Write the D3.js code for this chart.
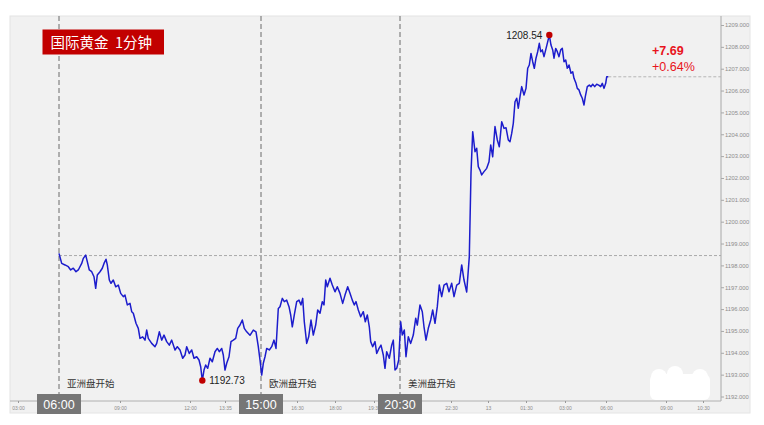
<!DOCTYPE html>
<html><head><meta charset="utf-8">
<script src="https://cdn.jsdelivr.net/npm/d3@7"></script>
<style>
html,body{margin:0;padding:0;background:#fff;}
svg{display:block;font-family:"Noto Sans CJK SC","Noto Sans",Arial,sans-serif;}
</style></head>
<body><svg id="c" width="764" height="425"></svg>
<script>
// ---- data ----
const title = "国际黄金  1分钟";
// session bar index (06:00 Asia open = 0)
const tIdx = [0,2.7,6,9.3,11.7,14.3,17,19.3,22.7,24.3,26.7,28.3,30.3,32.7,35,36.7,38.3,41,43.3,45,47,48.3,50.3,52,54.3,56.7,59.3,61.7,64.3,66,68.3,71,72.7,74.3,77,79.3,81,83.7,86,87.7,89.3,92.7,96,97.7,100.3,102.7,105,107.7,110.3,112.7,116,118.3,121,123.7,126,127.7,130.3,132.7,135,137.7,140,141.7,143.3,145,146.7,148.7,151,153.3,156,158.3,160.3,162.7,164.3,166,167.7,170,172,174.3,176.7,178.7,181,183.3,185.3,187.7,191,194.3,197,199.3,201,202.7,204.3,206,207.7,210.3,212.7,215,217,219.3,221,223.3,225.3,227.7,230,231.7,233.3,235.3,237.7,240,242,243.7,245.3,247.7,249.7,252,254.3,256.7,258.7,261,263.3,265,266.7,268.3,271,273.3,276,278.3,281,283.7,286,288.7,291,293.3,295.3,297,299.3,301.7,304.3,306.3,308.3,310.3,311.7,313.7,316,317.7,320,322,324.3,326,327.7,330.3,332.7,334.3,336,337.7,339.7,341.7,343.3,345.3,347,349.3,351.7,354.3,356.7,358.3,361,363.3,365,367,369.3,371.7,373.7,376,378.3,380.3,382.7,385,387.7,390,392.7,395,397.7,400.3,402.7,405,407.7,410.3,412,413.7,416,417.7,419.3,421,422.7,425,427.7,430,431.7,433.7,436,438.3,440.3,442.7,445,447,449.3,451,452.7,454.3,456,457.7,459.3,461,462.7,465,467,468.7,470.3,472,473.7,475.3,477,478.7,480.3,481.7,483.3,485,486.7,488.3,490.3,492,493.7,495,496.7,498.3,500,501.7,503.3,505,506.7,508.3,510,512,513.7,515,517,518.3,520,521.7,523.3,525,526.3,528.3,530.3,532,533.7,535.7,537.7,539.7,541.7,543.3,545,546.7,547.7,549.3];
const price = [1198.55,1198.09,1198.02,1197.94,1197.79,1197.87,1197.71,1197.79,1198.09,1198.32,1198.47,1198.17,1197.79,1197.71,1197.48,1196.95,1197.56,1197.71,1197.87,1198.09,1198.28,1198.02,1197.33,1197.18,1197.33,1197.02,1197.10,1196.72,1196.57,1196.64,1196.19,1196.26,1195.88,1195.81,1195.35,1195.12,1194.66,1194.73,1194.58,1195.04,1194.66,1194.43,1194.28,1194.43,1194.96,1194.58,1194.81,1194.51,1194.35,1194.58,1194.13,1194.28,1194.13,1193.75,1193.90,1194.28,1193.97,1194.13,1193.75,1193.82,1193.67,1193.36,1192.73,1193.21,1193.44,1193.29,1193.75,1193.59,1194.05,1194.20,1194.05,1194.20,1193.90,1193.21,1193.52,1193.82,1194.51,1194.58,1194.66,1195.12,1195.27,1195.50,1195.12,1194.96,1194.80,1195.04,1194.96,1194.28,1193.67,1192.98,1193.52,1193.82,1194.20,1194.13,1194.28,1194.58,1194.20,1196.03,1196.11,1196.49,1196.34,1196.41,1196.11,1195.73,1195.19,1195.73,1196.34,1196.41,1196.19,1196.49,1195.42,1194.43,1194.73,1195.50,1194.81,1195.27,1195.96,1195.81,1196.34,1196.19,1197.33,1197.02,1197.41,1197.10,1196.79,1197.02,1196.72,1196.26,1196.64,1197.02,1196.72,1196.41,1196.19,1196.34,1195.96,1195.65,1195.88,1195.42,1195.73,1195.19,1194.51,1194.28,1194.51,1193.97,1194.20,1194.35,1193.90,1193.29,1194.05,1193.75,1194.35,1194.58,1193.21,1193.29,1193.67,1195.42,1194.81,1195.04,1193.82,1194.73,1194.43,1194.81,1195.58,1195.27,1196.19,1195.88,1195.19,1194.58,1195.12,1195.50,1195.96,1195.35,1196.11,1197.10,1196.57,1197.10,1197.18,1196.79,1197.18,1196.57,1197.10,1197.18,1198.02,1197.33,1196.78,1198.40,1202.23,1204.12,1203.20,1203.36,1202.52,1202.36,1202.14,1202.29,1202.44,1202.74,1203.51,1202.97,1204.35,1203.74,1203.43,1204.57,1204.27,1204.30,1203.74,1203.66,1204.04,1204.50,1205.49,1205.65,1205.19,1205.72,1206.18,1205.80,1206.10,1207.02,1207.17,1207.70,1207.32,1207.02,1207.48,1207.78,1208.16,1207.78,1207.86,1207.55,1207.86,1208.16,1208.54,1208.08,1207.86,1207.48,1207.93,1207.78,1207.55,1207.86,1207.93,1207.32,1207.40,1207.02,1207.17,1206.79,1206.86,1206.56,1206.33,1206.10,1206.03,1205.80,1205.65,1205.34,1205.72,1206.18,1206.25,1206.18,1206.29,1206.18,1206.29,1206.25,1206.18,1206.33,1206.10,1206.33,1206.63,1206.63];
const prevClose = 1198.45;
const changeText = "+7.69";
const changePctText = "+0.64%";
const maxPoint = {t: 490.3, v: 1208.54, label: "1208.54"};
const minPoint = {t: 143.3, v: 1192.73, label: "1192.73"};
const sessionIdx = [0, 202, 341];
const sessionTime = ["06:00", "15:00", "20:30"];
const sessionName = ["亚洲盘开始", "欧洲盘开始", "美洲盘开始"];
const xTickIdx = [-41, 61, 131, 166, 238, 276, 315, 392, 429, 467, 506, 547, 607, 644];
const xTickLabels = ["03:00","09:00","12:00","13:35","16:30","18:00","19:30","22:30","13","01:30","03:00","06:00","09:00","10:30"];
const yTicks = [1192,1193,1194,1195,1196,1197,1198,1199,1200,1201,1202,1203,1204,1205,1206,1207,1208,1209];

// ---- layout ----
const svg = d3.select("#c");
const plot = {left: 10, right: 721, top: 16, bottom: 401};
const x = d3.scaleLinear().domain([-49, 662]).range([plot.left, plot.right]);
const y = d3.scaleLinear().domain([1192, 1209]).range([396.5, 25]);

// background panel
svg.append("rect").attr("x", 10).attr("y", 16).attr("width", 740).attr("height", 397)
  .attr("fill", "#f1f1f1").attr("stroke", "#e4e4e4").attr("stroke-width", 1);

// y axis (right)
const ya = svg.append("g").attr("transform", `translate(${plot.right},0)`)
  .call(d3.axisRight(y).tickValues(yTicks).tickFormat(d3.format(".3f")).tickSize(3).tickPadding(1));
ya.select(".domain").attr("d", `M0,${plot.top}V${plot.bottom}`).attr("stroke", "#a8a8a8");
ya.selectAll(".tick line").attr("stroke", "#a8a8a8");
ya.selectAll(".tick text").attr("fill", "#8c8c8c").attr("font-size", "5.8px").attr("font-family", "Arial, Liberation Sans, sans-serif");

// x axis
const xa = svg.append("g").attr("transform", `translate(0,${plot.bottom})`)
  .call(d3.axisBottom(x).tickValues(xTickIdx).tickFormat((d, i) => xTickLabels[i]).tickSize(2).tickPadding(3));
xa.select(".domain").attr("d", `M${plot.left},0H${plot.right}`).attr("stroke", "#b0b0b0");
xa.selectAll(".tick line").attr("stroke", "#999");
xa.selectAll(".tick text").attr("fill", "#8c8c8c").attr("font-size", "5px").attr("font-family", "Arial, Liberation Sans, sans-serif");

// previous close dashed line
svg.append("line").attr("x1", x(sessionIdx[0])).attr("x2", plot.right)
  .attr("y1", y(prevClose)).attr("y2", y(prevClose))
  .attr("stroke", "#a9a9a9").attr("stroke-dasharray", "3,2").attr("stroke-width", 1);

// last price dashed line
const lastT = tIdx[tIdx.length - 1], lastV = price[price.length - 1];
svg.append("line").attr("x1", x(lastT)).attr("x2", plot.right)
  .attr("y1", y(lastV)).attr("y2", y(lastV))
  .attr("stroke", "#b5b5b5").attr("stroke-dasharray", "3,2").attr("stroke-width", 1);

// session vertical dashed lines
svg.selectAll(".sess").data(sessionIdx).join("line")
  .attr("x1", d => x(d)).attr("x2", d => x(d))
  .attr("y1", plot.top).attr("y2", plot.bottom)
  .attr("stroke", "#6a6a6a").attr("stroke-dasharray", "5,3").attr("stroke-width", 1);

// session labels
svg.selectAll(".sessLbl").data(sessionIdx).join("text")
  .attr("x", d => x(d) + 8).attr("y", 387)
  .attr("font-size", "9.5px").attr("fill", "#333")
  .text((d, i) => sessionName[i]);

// white blob (erased watermark)
const blob = svg.append("g").attr("fill", "#ffffff");
blob.append("rect").attr("x", 650).attr("y", 374).attr("width", 60).attr("height", 26).attr("rx", 6);
blob.append("circle").attr("cx", 659).attr("cy", 377).attr("r", 8);
blob.append("circle").attr("cx", 675).attr("cy", 374).attr("r", 8);
blob.append("circle").attr("cx", 700).attr("cy", 377).attr("r", 8);

// price line
const line = d3.line().x((d, i) => x(tIdx[i])).y(d => y(d));
svg.append("path").datum(price).attr("d", line)
  .attr("fill", "none").attr("stroke", "#1c1ccc").attr("stroke-width", 1.5)
  .attr("stroke-linejoin", "round");

// max / min markers
svg.append("circle").attr("cx", x(maxPoint.t)).attr("cy", y(maxPoint.v)).attr("r", 3.2).attr("fill", "#c00000");
svg.append("text").attr("x", x(maxPoint.t) - 7).attr("y", y(maxPoint.v) + 3.8)
  .attr("text-anchor", "end").attr("font-size", "10px").attr("fill", "#222")
  .attr("font-family", "Arial, Liberation Sans, sans-serif").text(maxPoint.label);
svg.append("circle").attr("cx", x(minPoint.t)).attr("cy", y(minPoint.v)).attr("r", 3.2).attr("fill", "#c00000");
svg.append("text").attr("x", x(minPoint.t) + 7).attr("y", y(minPoint.v) + 3.8)
  .attr("font-size", "10px").attr("fill", "#222")
  .attr("font-family", "Arial, Liberation Sans, sans-serif").text(minPoint.label);

// change text
svg.append("text").attr("x", 652).attr("y", 54.5).attr("font-size", "12.5px").attr("font-weight", "bold")
  .attr("fill", "#e8141c").attr("font-family", "Arial, Liberation Sans, sans-serif").text(changeText);
svg.append("text").attr("x", 652).attr("y", 70.5).attr("font-size", "12.5px")
  .attr("fill", "#e8141c").attr("font-family", "Arial, Liberation Sans, sans-serif").text(changePctText);

// title
svg.append("rect").attr("x", 42.5).attr("y", 29.5).attr("width", 121.5).attr("height", 25).attr("fill", "#c20000");
svg.append("text").attr("x", 50.5).attr("y", 47.5).attr("font-size", "14.5px").attr("fill", "#fff")
  .text(title.replace(/ /g, "\u00a0"));

// session time boxes on x axis
const boxes = svg.selectAll(".sbox").data(sessionIdx).join("g")
  .attr("transform", d => `translate(${x(d)},0)`);
boxes.append("rect").attr("x", -22).attr("y", 394).attr("width", 44).attr("height", 20).attr("fill", "#767676");
boxes.append("text").attr("x", 0).attr("y", 408.5).attr("text-anchor", "middle")
  .attr("font-size", "12.5px").attr("fill", "#fff")
  .attr("font-family", "Arial, Liberation Sans, sans-serif")
  .text((d, i) => sessionTime[i]);
</script>
</body></html>
